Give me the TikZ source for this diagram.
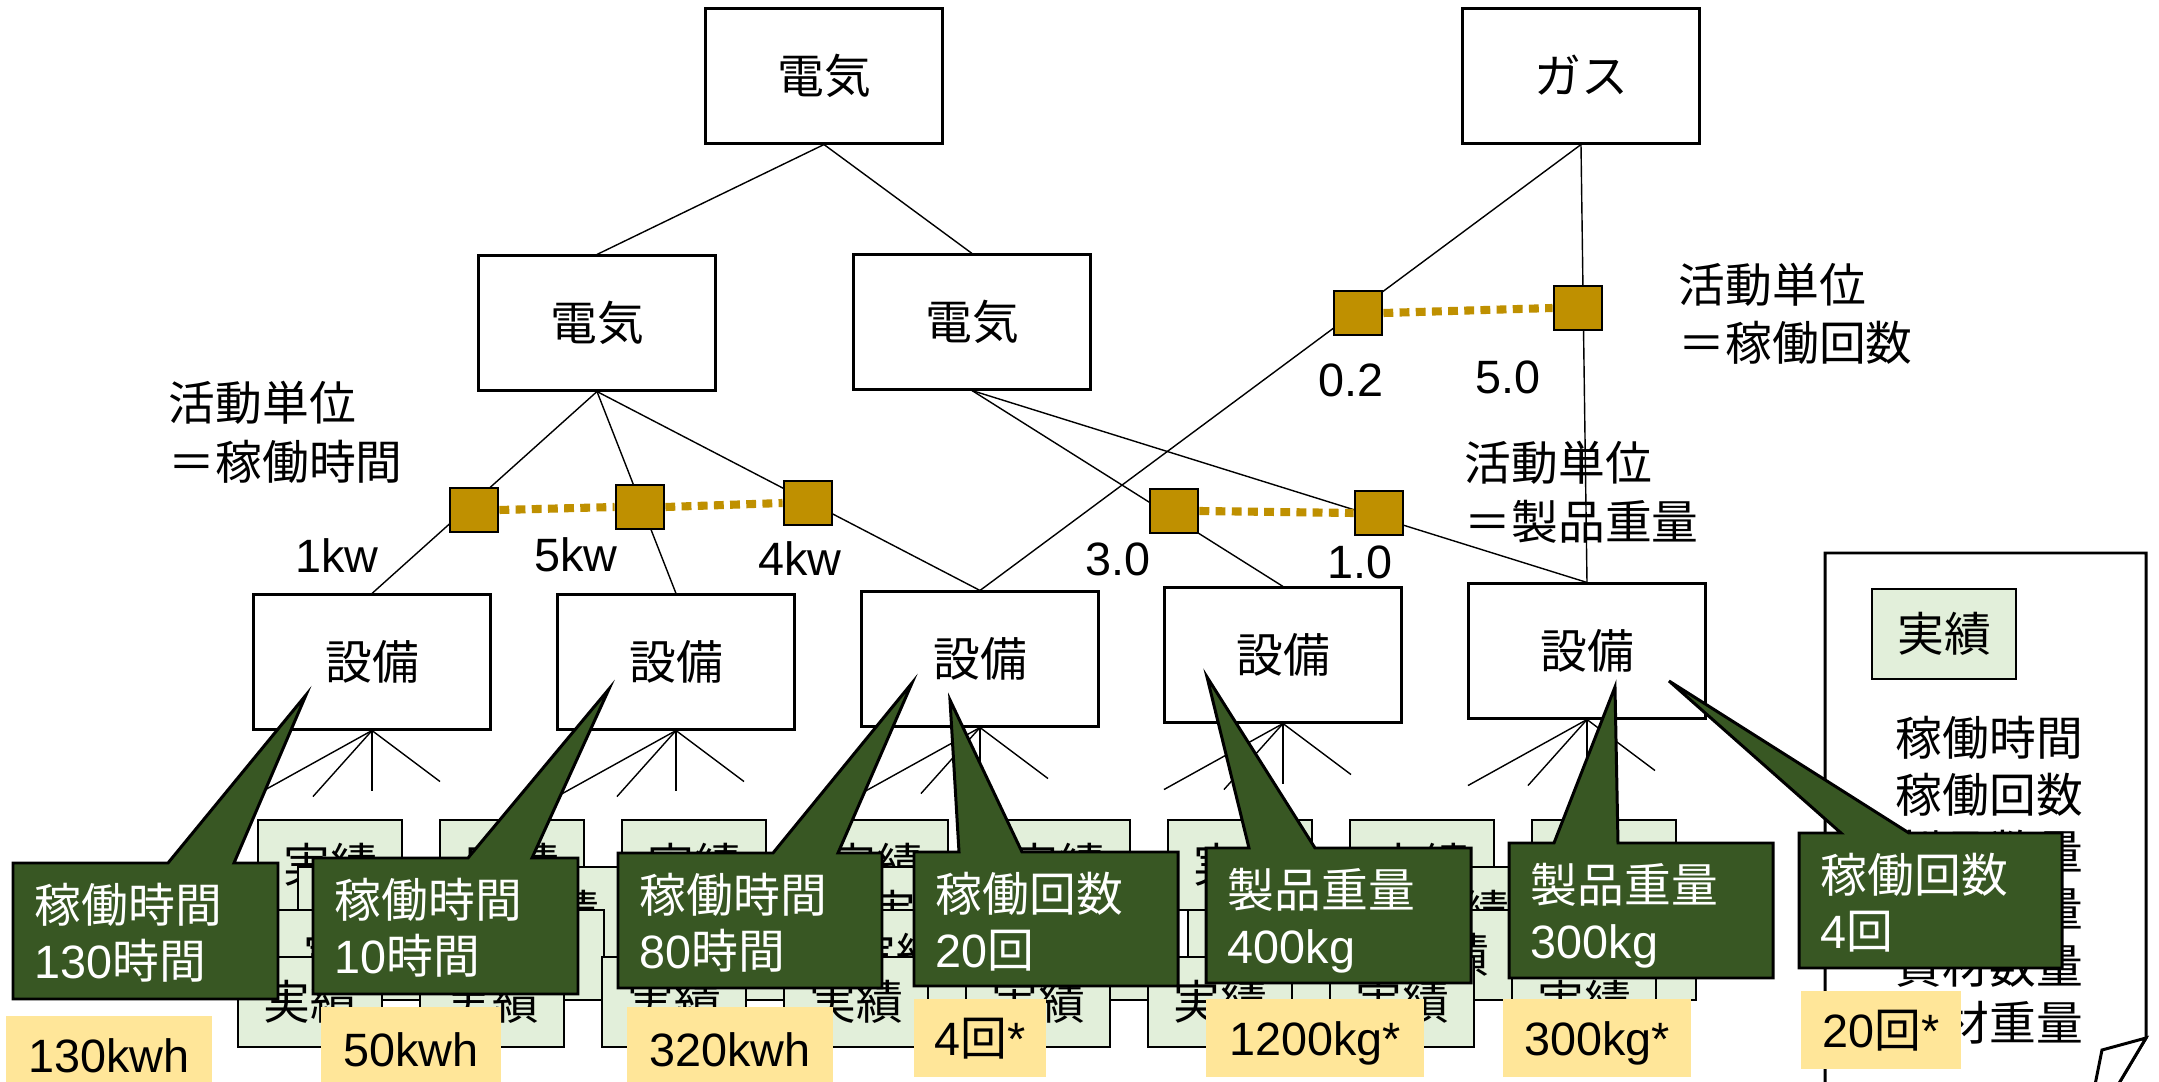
\documentclass[tikz,border=0pt]{standalone}
\usepackage{fontspec}
\setmainfont{Noto Sans CJK JP}
\newfontfamily\lat{Liberation Sans}
\definecolor{dgreen}{HTML}{385723}
\definecolor{gold}{HTML}{BF9000}
\definecolor{lyellow}{HTML}{FFE699}
\definecolor{lgreen}{HTML}{E2EFDA}
\begin{document}
\begin{tikzpicture}[x=0.01cm,y=-0.01cm,font=\fontsize{13.3pt}{16pt}\selectfont]
\tikzset{
  box/.style={draw,line width=0.85pt,fill=white,minimum width=2.37cm,minimum height=1.34cm,inner sep=0pt,text height=12pt,text depth=2pt},
  sq/.style={draw,line width=0.8pt,fill=gold,minimum width=0.48cm,minimum height=0.44cm,inner sep=0pt},
  link/.style={line width=0.4pt},
  dotlink/.style={gold,line width=2.3pt,dash pattern=on 2.8pt off 1.8pt},
  jb/.style={draw,line width=0.7pt,fill=lgreen,minimum width=1.44cm,minimum height=0.9cm,inner sep=0pt,text height=12pt,text depth=2pt},
  callout/.style={draw,line width=0.85pt,fill=dgreen},
  ctext/.style={text=white,anchor=base west,inner sep=0pt},
  txt/.style={anchor=base west,inner sep=0pt},
  num/.style={anchor=base,inner sep=0pt,font=\fontsize{13.3pt}{16pt}\selectfont\lat},
  ylab/.style={fill=lyellow,inner sep=0pt,text height=12pt,text depth=2pt}
}
\useasboundingbox[fill=white] (0,0) rectangle (2159,1082);

% top level boxes
\node[box] (e0) at (824,76) {電気};
\node[box] (g0) at (1581,76) {ガス};
\node[box] (e1) at (597,323) {電気};
\node[box] (e2) at (972,322) {電気};
% equipment
\node[box] (s1) at (372,662) {設備};
\node[box] (s2) at (676,662) {設備};
\node[box] (s3) at (980,659) {設備};
\node[box] (s4) at (1283,655) {設備};
\node[box] (s5) at (1587,651) {設備};

% connectors
\draw[link] (e0.south) -- (e1.north);
\draw[link] (e0.south) -- (e2.north);
\draw[link] (e1.south) -- (s1.north);
\draw[link] (e1.south) -- (s2.north);
\draw[link] (e1.south) -- (s3.north);
\draw[link] (e2.south) -- (s4.north);
\draw[link] (e2.south) -- (s5.north);
\draw[link] (g0.south) -- (s3.north);
\draw[link] (g0.south) -- (s5.north);

% fans below equipment
\foreach \s in {s1,s2,s3,s4,s5}{
  \draw[link] (\s.south) -- ++(-119,66);
  \draw[link] (\s.south) -- ++(-59,66);
  \draw[link] (\s.south) -- ++(0,60);
  \draw[link] (\s.south) -- ++(68,51);
}

% driver squares
\node[sq] (q1) at (474,510) {};
\node[sq] (q2) at (640,507) {};
\node[sq] (q3) at (808,503) {};
\node[sq] (q4) at (1174,511) {};
\node[sq] (q5) at (1379,513) {};
\node[sq] (q6) at (1358,313) {};
\node[sq] (q7) at (1578,308) {};
\draw[dotlink] (q1.east) -- (q2.west);
\draw[dotlink] (q2.east) -- (q3.west);
\draw[dotlink] (q4.east) -- (q5.west);
\draw[dotlink] (q6.east) -- (q7.west);

% rate labels
\node[num] (n1) at (337,573) {1kw};
\node[num] (n2) at (576,572) {5kw};
\node[num] (n3) at (800,575) {4kw};
\node[num] (n4) at (1351,397) {0.2};
\node[num] (n5) at (1508,394) {5.0};
\node[num] (n6) at (1118,576) {3.0};
\node[num] (n7) at (1360,579) {1.0};

% activity unit labels
\node[txt] (a1) at (168,421) {活動単位};
\node[txt] (a2) at (168,480) {＝稼働時間};
\node[txt] (a3) at (1678,303) {活動単位};
\node[txt] (a4) at (1678,361) {＝稼働回数};
\node[txt] (a5) at (1464,481) {活動単位};
\node[txt] (a6) at (1464,540) {＝製品重量};

% result record boxes (cascade)
\foreach \k in {0,...,7}{ \node[jb] (ja\k) at ({330+182*\k},865) {実績}; }
\foreach \k in {0,...,7}{ \node[jb] (jb\k) at ({370+182*\k},912) {実績}; }
\foreach \k in {0,...,7}{ \node[jb] (jc\k) at ({350+182*\k},955) {実績}; }
\foreach \k in {0,...,7}{ \node[jb] (jd\k) at ({310+182*\k},1002) {実績}; }

% legend document
\draw[line width=0.85pt,fill=white] (1825,1095) -- (1825,553) -- (2146,553) -- (2146,1038) -- (2112,1095);
\draw[line width=0.85pt,fill=white] (2146,1038) -- (2102,1050) -- (2093,1095) -- (2112,1095) -- cycle;
\node[jb] (lj) at (1944,634) {実績};
\node[txt] (l1) at (1895,755) {稼働時間};
\node[txt] (l2) at (1895,812) {稼働回数};
\node[txt] (l3) at (1895,869) {製品数量};
\node[txt] (l4) at (1895,926) {製品重量};
\node[txt] (l5) at (1895,983) {資材数量};
\node[txt] (l6) at (1895,1040) {資材重量};

% callouts
\draw[callout] (13,863) -- (168,863) -- (306,695) -- (234,863) -- (278,863) -- (278,999) -- (13,999) -- cycle;
\node[ctext] (c1a) at (34,922) {稼働時間};
\node[ctext] (c1b) at (34,978) {{\lat 130}時間};
\draw[callout] (313,858) -- (468,858) -- (609,689) -- (532,858) -- (578,858) -- (578,994) -- (313,994) -- cycle;
\node[ctext] (c2a) at (334,917) {稼働時間};
\node[ctext] (c2b) at (334,973) {{\lat 10}時間};
\draw[callout] (618,853) -- (773,853) -- (912,683) -- (838,853) -- (882,853) -- (882,988) -- (618,988) -- cycle;
\node[ctext] (c3a) at (639,912) {稼働時間};
\node[ctext] (c3b) at (639,968) {{\lat 80}時間};
\draw[callout] (914,852) -- (959,852) -- (950,700) -- (1022,852) -- (1178,852) -- (1178,986) -- (914,986) -- cycle;
\node[ctext] (c4a) at (935,911) {稼働回数};
\node[ctext] (c4b) at (935,967) {{\lat 20}回};
\draw[callout] (1206,848) -- (1249,848) -- (1207,677) -- (1315,848) -- (1471,848) -- (1471,983) -- (1206,983) -- cycle;
\node[ctext] (c5a) at (1227,907) {製品重量};
\node[ctext] (c5b) at (1227,963) {\lat 400kg};
\draw[callout] (1509,843) -- (1554,843) -- (1615,687) -- (1618,843) -- (1773,843) -- (1773,978) -- (1509,978) -- cycle;
\node[ctext] (c6a) at (1530,902) {製品重量};
\node[ctext] (c6b) at (1530,958) {\lat 300kg};
\draw[callout] (1799,833) -- (1841,833) -- (1669,681) -- (1909,833) -- (2062,833) -- (2062,968) -- (1799,968) -- cycle;
\node[ctext] (c7a) at (1820,892) {稼働回数};
\node[ctext] (c7b) at (1820,948) {{\lat 4}回};

% yellow results
\node[ylab,minimum width=2.06cm,minimum height=0.78cm] (y1) at (109,1055) {\lat 130kwh};
\node[ylab,minimum width=1.79cm,minimum height=0.84cm] (y2) at (411,1049) {\lat 50kwh};
\node[ylab,minimum width=2.06cm,minimum height=0.84cm] (y3) at (730,1049) {\lat 320kwh};
\node[ylab,minimum width=1.32cm,minimum height=0.78cm] (y4) at (980,1038) {{\lat 4}回{\lat *}};
\node[ylab,minimum width=2.18cm,minimum height=0.78cm] (y5) at (1315,1038) {\lat 1200kg*};
\node[ylab,minimum width=1.88cm,minimum height=0.78cm] (y6) at (1597,1038) {\lat 300kg*};
\node[ylab,minimum width=1.59cm,minimum height=0.77cm] (y7) at (1881,1030) {{\lat 20}回{\lat *}};
\end{tikzpicture}
\end{document}
